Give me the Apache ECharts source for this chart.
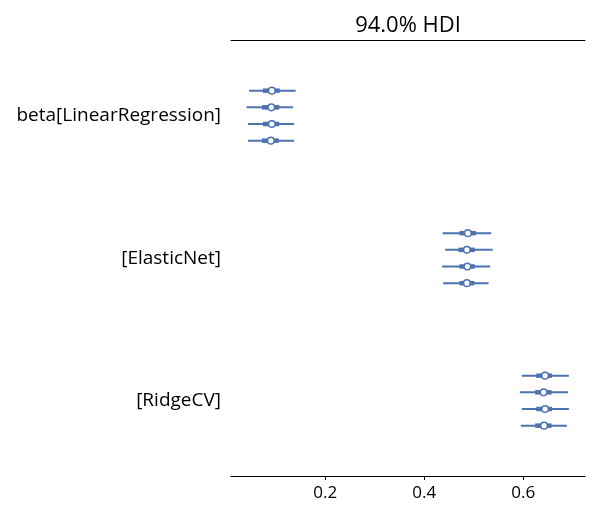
<!DOCTYPE html>
<html><head><meta charset="utf-8">
<script src="https://cdn.jsdelivr.net/npm/echarts@6/dist/echarts.min.js"></script>
<style>html,body{margin:0;padding:0;background:#fff}#c{width:600px;height:520px}</style>
</head><body><div id="c"></div>
<script>
const models = ['beta[LinearRegression]', '[ElasticNet]', '[RidgeCV]'];
const hdiLow  = [[0.046,0.041,0.044,0.044],[0.437,0.442,0.436,0.438],[0.597,0.593,0.597,0.595]];
const hdiHigh = [[0.140,0.135,0.137,0.137],[0.535,0.538,0.533,0.530],[0.692,0.690,0.692,0.688]];
const q25     = [[0.074,0.072,0.074,0.072],[0.471,0.469,0.471,0.471],[0.626,0.624,0.626,0.624]];
const q75     = [[0.108,0.107,0.107,0.106],[0.504,0.502,0.502,0.501],[0.658,0.657,0.658,0.657]];
const median  = [[0.092,0.091,0.092,0.090],[0.488,0.486,0.487,0.486],[0.644,0.641,0.644,0.642]];
const xTicks = [0.2, 0.4, 0.6];
const title = '94.0% HDI';

const GROUP_GAP = 8.55;
const nChains = 4;
const data = [];
models.forEach((m, g) => {
  for (let c = 0; c < nChains; c++) {
    data.push([hdiLow[g][c], hdiHigh[g][c], q25[g][c], q75[g][c], median[g][c], g * GROUP_GAP + c]);
  }
});
const groupCenters = models.map((m, g) => g * GROUP_GAP + (nChains - 1) / 2);
const color = '#4c72b0';
const font = '"Open Sans", Lato, sans-serif';

const chart = echarts.init(document.getElementById('c'));
chart.setOption({
  animation: false,
  graphic: [{ type: 'text', x: 408, y: 26,
    style: { text: title, font: '22px ' + font, fill: '#000', textAlign: 'center', textVerticalAlign: 'middle' } }],
  grid: { left: 231, right: 15, top: 40, bottom: 44 },
  xAxis: [{
    type: 'value', min: 0.0095, max: 0.7246, position: 'bottom',
    axisLine: { show: true, onZero: false, lineStyle: { color: '#000', width: 1 } },
    axisTick: { show: true, length: 4, lineStyle: { color: '#000' }, customValues: xTicks },
    axisLabel: { color: '#000', fontSize: 17, fontFamily: font, margin: 9, customValues: xTicks,
      formatter: v => v.toFixed(1) },
    splitLine: { show: false }
  }, {
    type: 'value', min: 0.0095, max: 0.7246, position: 'top',
    axisLine: { show: true, onZero: false, lineStyle: { color: '#000', width: 1 } },
    axisTick: { show: false }, axisLabel: { show: false }, splitLine: { show: false }
  }],
  yAxis: {
    type: 'value', inverse: true, min: -3.04, max: 2 * GROUP_GAP + 3 + 3.02,
    axisLine: { show: false }, axisTick: { show: false }, splitLine: { show: false },
    axisLabel: { color: '#000', fontSize: 19, fontFamily: font, margin: 10, padding: [3, 0, 0, 0],
      customValues: groupCenters,
      formatter: v => { const i = groupCenters.findIndex(c => Math.abs(c - v) < 1e-6); return i >= 0 ? models[i] : ''; } }
  },
  series: [{
    type: 'custom',
    data: data,
    encode: { x: [0, 1], y: 5 },
    renderItem: (params, api) => {
      const y = api.value(5);
      const a = api.coord([api.value(0), y]);
      const b = api.coord([api.value(1), y]);
      const c = api.coord([api.value(2), y]);
      const d = api.coord([api.value(3), y]);
      const m = api.coord([api.value(4), y]);
      return { type: 'group', children: [
        { type: 'line', shape: { x1: a[0], y1: a[1], x2: b[0], y2: b[1] }, style: { stroke: color, lineWidth: 2 } },
        { type: 'line', shape: { x1: c[0], y1: c[1], x2: d[0], y2: d[1] }, style: { stroke: color, lineWidth: 4.5 } },
        { type: 'circle', shape: { cx: m[0], cy: m[1], r: 3.3 }, style: { fill: '#fff', stroke: color, lineWidth: 1.5 } }
      ] };
    }
  }]
});
</script></body></html>
